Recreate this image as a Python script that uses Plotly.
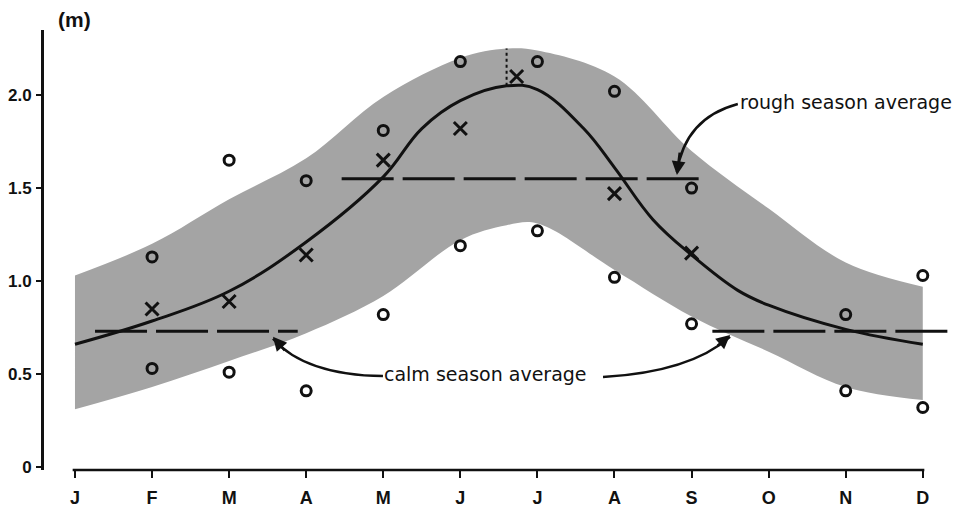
import plotly.graph_objects as go

# ---------------- data ----------------
months = ["J", "F", "M", "A", "M", "J", "J", "A", "S", "O", "N", "D"]
month_idx = list(range(12))

# monthly extremes (open circles) and monthly means (crosses); None = no mark
upper_obs = [None, 1.13, 1.65, 1.54, 1.81, 2.18, 2.18, 2.02, 1.50, None, 0.82, 1.03]
lower_obs = [None, 0.53, 0.51, 0.41, 0.82, 1.19, 1.27, 1.02, 0.77, None, 0.41, 0.32]
mean_x = [1, 2, 3, 4, 5, 5.73, 7, 8]
mean_obs = [0.85, 0.89, 1.14, 1.65, 1.82, 2.10, 1.47, 1.15]

# smooth seasonal curve
curve_x = [0, 1, 2, 3, 4, 4.5, 5, 5.6, 6, 6.6, 7, 7.5, 8, 8.6, 9, 10, 11]
curve_y = [0.66, 0.785, 0.945, 1.21, 1.56, 1.82, 1.97, 2.05, 2.03, 1.82, 1.61, 1.33, 1.14, 0.95, 0.87, 0.74, 0.66]

# shaded envelope
band_x = [0, 1, 2, 3, 4, 5, 5.6, 6, 7, 8, 9, 10, 11]
band_upper = [1.03, 1.20, 1.44, 1.66, 1.99, 2.20, 2.25, 2.24, 2.10, 1.70, 1.39, 1.10, 0.97]
band_lower = [0.31, 0.43, 0.57, 0.72, 0.92, 1.22, 1.30, 1.31, 1.06, 0.81, 0.62, 0.43, 0.36]

# seasonal averages
calm_avg = 0.73
rough_avg = 1.55
calm_spans = [(0.26, 2.89), (8.27, 11.35)]
rough_span = (3.46, 8.15)
peak_month = 5.6

y_tickvals = [0, 0.5, 1.0, 1.5, 2.0]
y_ticktext = ["0", "0.5", "1.0", "1.5", "2.0"]

# ---------------- figure ----------------
INK = "#111111"
BAND = "#a4a4a4"
TICK_FONT = dict(family="Liberation Sans, Arial", size=18, color=INK, weight="bold")
YTICK_FONT = dict(family="Liberation Sans, Arial", size=17, color=INK, weight="bold")
TEXT_FONT = dict(family="DejaVu Sans, Verdana, sans-serif", size=19, color=INK)

fig = go.Figure()

fig.add_trace(go.Scatter(x=band_x, y=band_lower, mode="lines", line=dict(width=0, shape="spline"),
                         hoverinfo="skip", showlegend=False))
fig.add_trace(go.Scatter(x=band_x, y=band_upper, mode="lines", line=dict(width=0, shape="spline"),
                         fill="tonexty", fillcolor=BAND, hoverinfo="skip", showlegend=False))

# dashed seasonal averages
for x0, x1 in calm_spans:
    fig.add_trace(go.Scatter(x=[x0, x1], y=[calm_avg, calm_avg], mode="lines",
                             line=dict(color=INK, width=3, dash="52px,9px"), showlegend=False))
fig.add_trace(go.Scatter(x=list(rough_span), y=[rough_avg, rough_avg], mode="lines",
                         line=dict(color=INK, width=3, dash="52px,9px"), showlegend=False))

# peak marker (dotted)
fig.add_trace(go.Scatter(x=[peak_month, peak_month], y=[2.05, 2.25], mode="lines",
                         line=dict(color=INK, width=2, dash="dot"), showlegend=False))

# smooth curve
fig.add_trace(go.Scatter(x=curve_x, y=curve_y, mode="lines",
                         line=dict(color=INK, width=3, shape="spline", smoothing=1.1), showlegend=False))

# observations
fig.add_trace(go.Scatter(x=month_idx, y=upper_obs, mode="markers",
                         marker=dict(symbol="circle-open", size=10, color=INK, line=dict(width=3)),
                         showlegend=False))
fig.add_trace(go.Scatter(x=month_idx, y=lower_obs, mode="markers",
                         marker=dict(symbol="circle-open", size=10, color=INK, line=dict(width=3)),
                         showlegend=False))
fig.add_trace(go.Scatter(x=mean_x, y=mean_obs, mode="markers",
                         marker=dict(symbol="x-thin-open", size=13, color=INK, line=dict(width=3, color=INK)),
                         showlegend=False))

# x-axis baseline drawn from J to D (gap next to the y-axis as in the original)
fig.add_shape(type="line", xref="x", yref="paper", x0=-0.03, x1=11.02, y0=0, y1=0,
              line=dict(color=INK, width=2.5))

# curved leader lines
fig.add_shape(type="path", path="M 8.60,1.952 Q 7.915,1.876 7.81,1.585",
              line=dict(color=INK, width=2.5))
fig.add_shape(type="path", path="M 3.996,0.489 Q 2.984,0.495 2.569,0.690",
              line=dict(color=INK, width=2.5))
fig.add_shape(type="path", path="M 6.851,0.484 Q 7.98,0.511 8.499,0.700",
              line=dict(color=INK, width=2.5))

# arrow heads
for (x, y, ax, ay) in [(7.81, 1.57, 3, -24), (2.569, 0.70, 13, 15), (8.50, 0.71, -14, 12)]:
    fig.add_annotation(x=x, y=y, ax=ax, ay=ay, axref="pixel", ayref="pixel", text="",
                       showarrow=True, arrowhead=2, arrowsize=1.1, arrowwidth=2.5, arrowcolor=INK)

fig.add_annotation(x=8.60, y=1.962, text="rough season average", showarrow=False,
                   xanchor="left", yanchor="middle", font=TEXT_FONT)
fig.add_annotation(x=3.98, y=0.50, text="calm season average", showarrow=False,
                   xanchor="left", yanchor="middle", font=TEXT_FONT)
fig.add_annotation(xref="paper", yref="paper", x=0.033, y=1.023, text="(m)", showarrow=False,
                   xanchor="center", yanchor="middle",
                   font=dict(family="Liberation Sans, Arial", size=21, color=INK, weight="bold"))

# the page places the figure 8px in from the top-left corner, so the figure is
# sized 955x502 and the margins are reduced by 8px to keep the plot where it belongs
fig.update_layout(
    width=955, height=502,
    margin=dict(l=36, r=8, t=22, b=40, autoexpand=False),
    paper_bgcolor="white", plot_bgcolor="white",
    showlegend=False,
    xaxis=dict(range=[-0.402, 11.418], tickvals=month_idx, ticktext=months, automargin=False,
               showgrid=False, zeroline=False, showline=False,
               ticks="outside", ticklen=7, tickwidth=2, tickcolor=INK,
               tickfont=TICK_FONT, ticklabelstandoff=4),
    yaxis=dict(range=[-0.016, 2.35], tickvals=y_tickvals, ticktext=y_ticktext, automargin=False,
               showgrid=False, zeroline=False, showline=True, linecolor=INK, linewidth=3,
               ticks="outside", ticklen=5, tickwidth=2, tickcolor=INK,
               tickfont=YTICK_FONT, ticklabelstandoff=1),
)

fig.write_html("out.html")
